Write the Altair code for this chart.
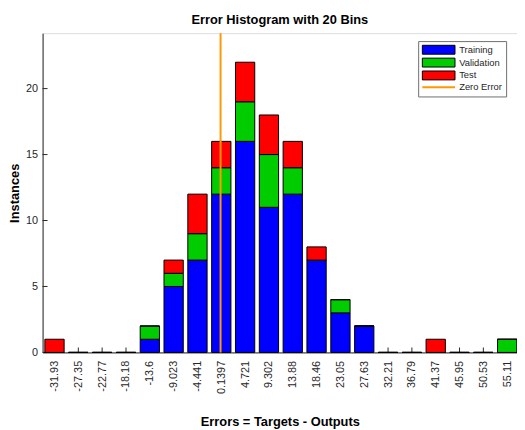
import altair as alt
import pandas as pd

# ---- data ----
centers = [-31.93, -27.35, -22.77, -18.18, -13.6, -9.023, -4.441, 0.1397, 4.721, 9.302,
           13.88, 18.46, 23.05, 27.63, 32.21, 36.79, 41.37, 45.95, 50.53, 55.11]
training = [0, 0, 0, 0, 1, 5, 7, 12, 16, 11, 12, 7, 3, 2, 0, 0, 0, 0, 0, 0]
validation = [0, 0, 0, 0, 1, 1, 2, 2, 3, 4, 2, 0, 1, 0, 0, 0, 0, 0, 0, 1]
test = [1, 0, 0, 0, 0, 1, 3, 2, 3, 3, 2, 1, 0, 0, 0, 0, 1, 0, 0, 0]
series = ["Training", "Validation", "Test"]
legend_labels = ["Training", "Validation", "Test", "Zero Error"]
colors = ["#0000ff", "#00cc00", "#ff0000", "#ff9900"]
y_ticks = [0, 5, 10, 15, 20]
zero_error = [0.0]

rows = []
for i, c in enumerate(centers):
    for k, (name, vals) in enumerate(zip(series, [training, validation, test])):
        rows.append({"center": c, "set": name, "count": vals[i], "order": k})
df = pd.DataFrame(rows)

W, H = 480, 323
FONT = "Liberation Sans"
AX = "#262626"

x_scale = alt.Scale(domain=[-34.22, 57.0], nice=False, zero=False, padding=0)
y_scale = alt.Scale(domain=[0, 24.2], nice=False)

x_axis = alt.Axis(values=centers, labelExpr="'' + datum.value", labelAngle=270,
                  ticks=False, labelPadding=8, grid=False, domainColor=AX,
                  labelColor=AX, labelFontSize=11, labelFont=FONT,
                  title="Errors = Targets - Outputs", titleFontSize=13,
                  titleFontWeight="bold", titleFont=FONT, titleColor="#000000",
                  titleBaseline="top", titleY=64, labelOverlap=False)
y_axis = alt.Axis(values=y_ticks, ticks=False, labelPadding=5, grid=False,
                  domainColor=AX, labelColor=AX, labelFontSize=11, labelFont=FONT,
                  title="Instances", titleFontSize=13, titleFontWeight="bold",
                  titleFont=FONT, titleColor="#000000", titleX=-21,
                  titleBaseline="bottom")

x_enc = alt.X("center:Q", scale=x_scale, axis=x_axis)

rect_path = "M-3.67,-1L3.67,-1L3.67,1L-3.67,1Z"
line_path = "M-3.67,0L3.67,0"

legend = alt.Legend(
    title=None, orient="none", legendX=380, legendY=8,
    symbolSize=81, symbolOffset=12, labelOffset=16,
    symbolType=alt.ExprRef(expr=f"datum.value == 'Zero Error' ? '{line_path}' : '{rect_path}'"),
    symbolStrokeColor=alt.ExprRef(expr="datum.value == 'Zero Error' ? '#ff9900' : '#000000'"),
    symbolStrokeWidth=alt.ExprRef(expr="datum.value == 'Zero Error' ? 2 : 1"),
    labelFontSize=9.5, labelFont=FONT, labelColor=AX,
    padding=4, rowPadding=-1, strokeColor="#6e6e6e", fillColor="white",
)

x_ticks = alt.Chart(pd.DataFrame({"center": centers})).mark_rule(color=AX).encode(
    x=x_enc, y=alt.value(H), y2=alt.value(H - 5))

y_tick_marks = alt.Chart(pd.DataFrame({"count": y_ticks})).mark_rule(color=AX).encode(
    y=alt.Y("count:Q", scale=y_scale, axis=y_axis), x=alt.value(0), x2=alt.value(5))

bars = alt.Chart(df).mark_bar(width=19.5, stroke="black", strokeWidth=1).encode(
    x=x_enc,
    y=alt.Y("count:Q", stack="zero", scale=y_scale, axis=y_axis),
    color=alt.Color("set:N", scale=alt.Scale(domain=legend_labels, range=colors), legend=legend),
    order=alt.Order("order:Q"),
)

zero_line = alt.Chart(pd.DataFrame({"center": zero_error})).mark_rule(
    color="#ff9900", strokeWidth=2).encode(x=x_enc)

chart = alt.layer(x_ticks, y_tick_marks, bars, zero_line).properties(
    width=W, height=H,
    title=alt.TitleParams("Error Histogram with 20 Bins", fontSize=13, fontWeight="bold",
                          font=FONT, color="#000000", anchor="middle", offset=5),
    autosize=alt.AutoSizeParams(type="none"),
    padding={"left": 35, "top": 23, "right": 0, "bottom": 76},
).configure_view(stroke=None).configure(font=FONT)

chart.save("out.html", embed_options={"renderer": "svg", "actions": False})
